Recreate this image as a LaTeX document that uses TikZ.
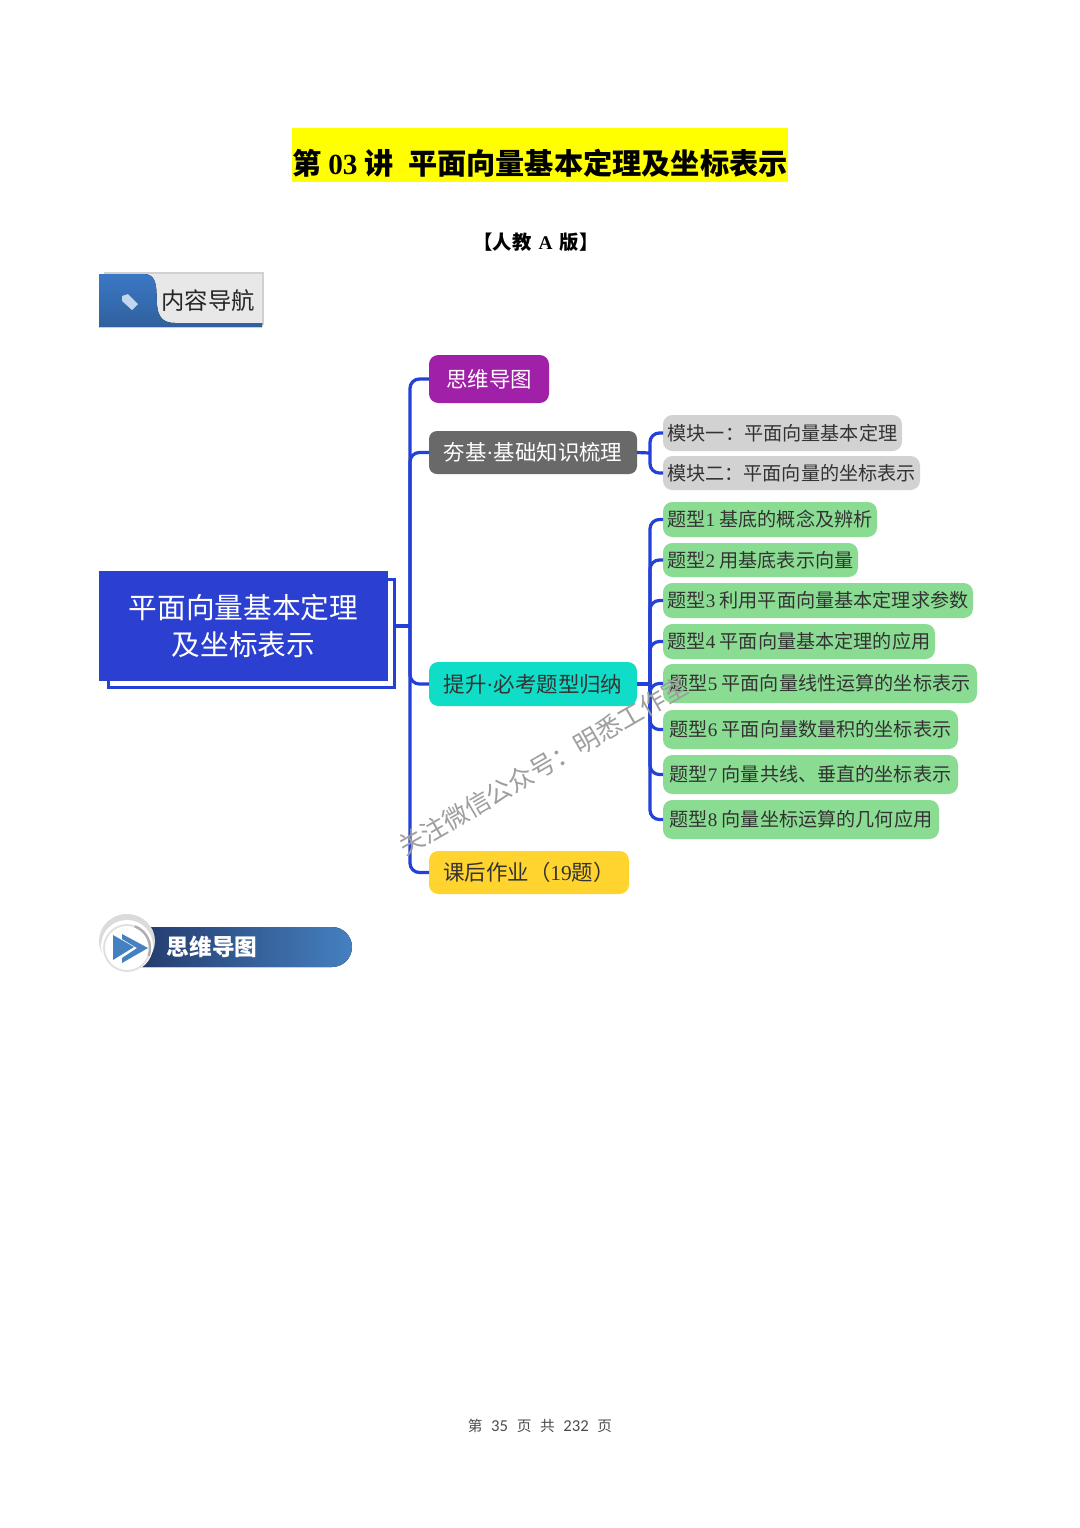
\documentclass[tikz,border=0pt]{standalone}
\usepackage{fontspec}
\setmainfont{Liberation Serif}
\newfontfamily\cjk{Noto Sans CJK SC}
\newfontfamily\footdigits{Carlito}
\usepackage{tikz}
\definecolor{titleyellow}{HTML}{FFFF00}
\definecolor{rootblue}{HTML}{2B3FD0}
\definecolor{linkblue}{HTML}{2340D8}
\definecolor{mindpurple}{HTML}{A020A8}
\definecolor{basegray}{HTML}{696969}
\definecolor{upteal}{HTML}{10DDC8}
\definecolor{workyellow}{HTML}{FFD42E}
\definecolor{topicgreen}{HTML}{8BDC93}
\definecolor{modgray}{HTML}{D2D2D2}
\definecolor{tagblue}{HTML}{3A78C4}
\definecolor{tagdark}{HTML}{30609E}
\definecolor{bannerdark}{HTML}{22386A}
\definecolor{bannerlight}{HTML}{4580C0}
\tikzset{
  box/.style={rounded corners=7pt, inner sep=0pt, outer sep=0pt, align=center, font=\cjk\fontsize{16.1}{20}\selectfont},
  branch/.style={box, text=white},
  topic/.style={box, fill=topicgreen, text=black!80, font=\cjk\fontsize{14.35}{18}\selectfont},
  module/.style={topic, fill=modgray},
  link/.style={draw=linkblue, line width=2.4pt, rounded corners=7pt},
}
% node from its pixel box: style, name, x0, y0, x1, y1, text
\newcommand{\boxnode}[7]{\node[#1, minimum width={(#5-#3)*0.75pt}, minimum height={(#6-#4)*0.75pt}] (#2) at ({(#3+#5)/2},{(#4+#6)/2}) {#7};}
\begin{document}
\begin{tikzpicture}[x=0.75pt, y=-0.75pt]
  \useasboundingbox[fill=white] (0,0) rectangle (1080,1528);

  % heading
  \node[fill=titleyellow, minimum width=372pt, minimum height=40.5pt, inner sep=0pt] (title) at (540,155) {};
  \node[font=\cjk\bfseries\fontsize{21.9}{26}\selectfont, inner sep=0pt] (titletext) at (540,163)
    {第 {\rmfamily\bfseries 03} 讲\hspace{6pt} 平面向量基本定理及坐标表示};
  \node[font=\cjk\bfseries\fontsize{14.5}{18}\selectfont, inner sep=0pt] (edition) at (536,242) {【人教\hspace{2pt} {\rmfamily\bfseries A} \hspace{2pt}版】};

  % contents tag
  \fill[black!18] (104,272) rectangle (264,325);
  \fill[black!9] (104,274) rectangle (262,323);
  \fill[top color=tagblue, bottom color=tagdark]
    (99,274) -- (146,274) .. controls (158,276) and (156,290) .. (157,305) .. controls (158,318) and (164,323) .. (175,323) -- (262,323) -- (262,327) -- (99,327) -- cycle;
  \fill[white!70!tagblue] (122,296) -- (128,294) -- (138,304) -- (132,310) -- (122,301) -- cycle;
  \node[font=\cjk\fontsize{17.5}{22}\selectfont, text=black!85, inner sep=0pt] (navtext) at (208,301) {内容导航};

  % mind map
  \node[fill=white, draw=linkblue, line width=2.4pt, minimum width=215pt, minimum height=80.5pt] (rootback) at (251.5,633.5) {};
  \boxnode{box, rounded corners=0pt, fill=rootblue, text=white, font=\cjk\fontsize{21.5}{28}\selectfont}{root}{99}{571}{388}{681}{平面向量基本定理\\及坐标表示}

  \boxnode{branch, fill=mindpurple}{mind}{429}{355}{549}{403}{思维导图}
  \boxnode{branch, fill=basegray, rounded corners=6pt}{base}{429}{431}{637}{474}{夯基{\rmfamily ·}基础知识梳理}
  \boxnode{branch, fill=upteal, text=black!80}{up}{429}{662}{637}{706}{提升{\rmfamily ·}必考题型归纳}
  \boxnode{branch, fill=workyellow, text=black!80}{work}{429}{851}{629}{894}{课后作业（{\rmfamily 19}题）}

  \boxnode{module}{moda}{663}{415}{902}{451}{模块一：平面向量基本定理}
  \boxnode{module}{modb}{663}{456}{920}{490}{模块二：平面向量的坐标表示}

  \boxnode{topic}{ta}{663}{502}{877}{537}{题型{\rmfamily 1} 基底的概念及辨析}
  \boxnode{topic}{tb}{663}{543}{858}{577}{题型{\rmfamily 2} 用基底表示向量}
  \boxnode{topic}{tc}{663}{583}{973}{618}{题型{\rmfamily 3} 利用平面向量基本定理求参数}
  \boxnode{topic}{td}{663}{624}{935}{659}{题型{\rmfamily 4} 平面向量基本定理的应用}
  \boxnode{topic}{te}{663}{664}{977}{703}{题型{\rmfamily 5} 平面向量线性运算的坐标表示}
  \boxnode{topic}{tf}{663}{710}{958}{749}{题型{\rmfamily 6} 平面向量数量积的坐标表示}
  \boxnode{topic}{tg}{663}{755}{958}{794}{题型{\rmfamily 7} 向量共线、垂直的坐标表示}
  \boxnode{topic}{th}{663}{800}{939}{839}{题型{\rmfamily 8} 向量坐标运算的几何应用}

  \coordinate (spine) at (410,626);
  \coordinate (basefork) at (650,453);
  \coordinate (upfork) at (650,684);

  \draw[link] (rootback.east |- spine) -- (spine);
  \foreach \n in {mind,base,up,work}
    \draw[link] (spine) |- (\n.west);
  \draw[link] (base.east) -- (basefork);
  \foreach \n in {moda,modb}
    \draw[link] (basefork) |- (\n.west);
  \draw[link] (up.east) -- (upfork);
  \foreach \n in {ta,tb,tc,td,te,tf,tg,th}
    \draw[link] (upfork) |- (\n.west);

  % watermark
  \node[font=\cjk\fontsize{19}{23}\selectfont, text=black!38, rotate=30, inner sep=0pt] (mark) at (543,766) {关注微信公众号：明悉工作室};

  % section banner
  \fill[left color=bannerdark, right color=bannerlight]
    (130,927) -- (332,927) arc (-90:90:20) -- (130,967) -- cycle;
  \fill[black!14] (127,941) ellipse (28 and 27);
  \fill[white] (127,946) circle (26);
  \draw[black!12, line width=1.4pt] (127,948) circle (23);
  \draw[black!32, line width=1.8pt] (127,948) ++(-70:23) arc (-70:20:23);
  \fill[bannerlight] (113,935) -- (113,960) -- (134,947) -- cycle;
  \fill[bannerlight] (122,934) -- (148,948) -- (122,963) -- (122,958) -- (137,948) -- (122,939) -- cycle;
  \node[font=\cjk\bfseries\fontsize{17}{20}\selectfont, text=white, inner sep=0pt] (bannertext) at (212,947) {思维导图};

  % footer
  \node[font=\cjk\fontsize{11}{13}\selectfont, text=black!70, inner sep=0pt] (footer) at (540,1426)
    {第\hspace{6.5pt}{\footdigits\fontsize{12.5}{13}\selectfont 35}\hspace{6.5pt}页\hspace{6.5pt}共\hspace{6.5pt}{\footdigits\fontsize{12.5}{13}\selectfont 232}\hspace{6.5pt}页};
\end{tikzpicture}
\end{document}
